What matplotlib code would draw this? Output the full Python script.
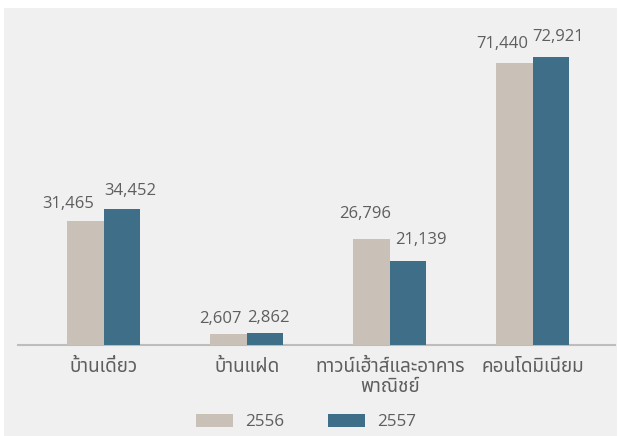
import matplotlib
matplotlib.use("Agg")
import matplotlib.pyplot as plt
from matplotlib import font_manager, ft2font
from matplotlib.patches import Rectangle

# data
categories = ["บ้านเดี่ยว", "บ้านแฝด", "ทาวน์เฮ้าส์และอาคาร\nพาณิชย์", "คอนโดมิเนียม"]
years = ["2556", "2557"]
values_2556 = [31465, 2607, 26796, 71440]
values_2557 = [34452, 2862, 21139, 72921]

# small nudges (pixels) so the value labels sit like the original
nudge_2556 = [(-17, 9), (-8, 7), (-6, 17), (-12, 11)]
nudge_2557 = [(8, 10), (4, 7), (13, 13), (7, 12)]

BEIGE = "#c9c0b7"
BLUE = "#3f6e88"
BG = "#eff0ef"
TEXT = "#5e5e5e"


# find a font that has Thai letters in it
def find_thai_font():
    liked = ["Noto Sans Thai", "Noto Sans Thai UI", "Sarabun", "Kanit", "Prompt",
             "Loma", "Garuda", "Umpush", "Waree", "Tlwg Typo", "Norasi", "Kinnari"]
    found = []
    for f in font_manager.fontManager.ttflist:
        try:
            if 0x0E01 in ft2font.FT2Font(f.fname).get_charmap():
                found.append(f.name)
        except Exception:
            pass
    for name in liked:
        if name in found:
            return name
    if found:
        return found[0]
    return "DejaVu Sans"


thai = find_thai_font()
plt.rcParams["font.family"] = [thai, "DejaVu Sans"]

fig = plt.figure(figsize=(6.19, 4.36), dpi=100)
fig.patch.set_facecolor("white")
fig.patches.append(Rectangle((4 / 619, 0), 613 / 619, 428 / 436, transform=fig.transFigure,
                             facecolor=BG, edgecolor="none", zorder=-10))

ax = fig.add_axes([18 / 619, 91.5 / 436, 597 / 619, 315.2 / 436])
ax.set_facecolor("none")

x = list(range(len(categories)))
w = 0.254
bars1 = ax.bar([i - w / 2 for i in x], values_2556, w, color=BEIGE, label=years[0], zorder=2)
bars2 = ax.bar([i + w / 2 for i in x], values_2557, w, color=BLUE, label=years[1], zorder=2)

ax.set_xlim(-0.599, 3.575)
ax.set_ylim(0, 80000)

for bars, vals, nudge in [(bars1, values_2556, nudge_2556), (bars2, values_2557, nudge_2557)]:
    for b, v, (dx, dy) in zip(bars, vals, nudge):
        ax.annotate(f"{v:,}", (b.get_x() + b.get_width() / 2, b.get_height()),
                    xytext=(dx, dy), textcoords="offset pixels", ha="center", va="bottom",
                    fontsize=12, color=TEXT, family=["Open Sans", thai, "DejaVu Sans"])

ax.set_xticks(x)
ax.set_xticklabels(categories, fontsize=13.6, color=TEXT, linespacing=1.12)
ax.tick_params(axis="x", length=0, pad=10)
ax.set_yticks([])
for s in ["top", "left", "right"]:
    ax.spines[s].set_visible(False)
ax.spines["bottom"].set_color("#bdbdbd")
ax.spines["bottom"].set_linewidth(1.5)
ax.spines["bottom"].set_zorder(1)

fig.legend(loc="center", bbox_to_anchor=(306 / 619, 1 - 422 / 436), ncol=2, frameon=False,
           handlelength=2.2, handleheight=0.85, handletextpad=0.7, columnspacing=2.55,
           prop={"family": ["Open Sans", "DejaVu Sans"], "size": 12.3}, labelcolor=TEXT)

fig.savefig("out.png", dpi=100, facecolor=fig.get_facecolor())
